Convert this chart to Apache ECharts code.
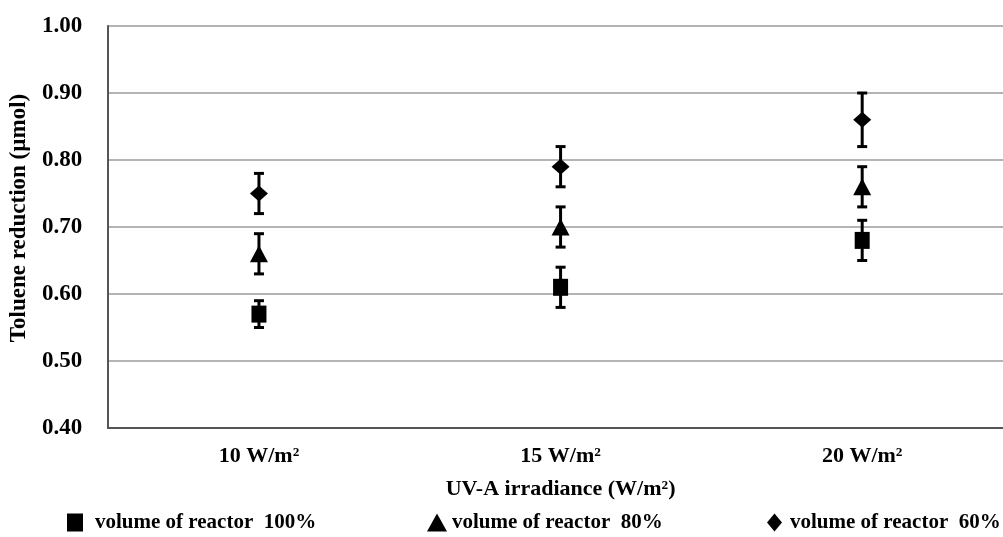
<!DOCTYPE html>
<html>
<head>
<meta charset="utf-8">
<script src="https://cdn.jsdelivr.net/npm/echarts@6/dist/echarts.min.js"></script>
<style>
  html, body { margin: 0; padding: 0; background: #fff; overflow: hidden; }
  #chart { width: 1013px; height: 537px; }
</style>
</head>
<body>
<div id="chart"></div>
<script>
// Irradiance levels on the x axis
var categories = ['10 W/m\u00B2', '15 W/m\u00B2', '20 W/m\u00B2'];

// Mean toluene reduction (µmol) per reactor fill volume
var vol100 = [0.57, 0.61, 0.68];
var vol80  = [0.66, 0.70, 0.76];
var vol60  = [0.75, 0.79, 0.86];

// Error bar bounds (low, high) for each series
var vol100Low  = [0.55, 0.58, 0.65];
var vol100High = [0.59, 0.64, 0.71];
var vol80Low   = [0.63, 0.67, 0.73];
var vol80High  = [0.69, 0.73, 0.79];
var vol60Low   = [0.72, 0.76, 0.82];
var vol60High  = [0.78, 0.82, 0.90];

// Y axis range and step
var yMin = 0.40, yMax = 1.00, yStep = 0.10;

var seriesNames = ['volume of reactor  100%', 'volume of reactor  80%', 'volume of reactor  60%'];
var legendIcons = ['rect', 'triangle', 'diamond'];
var legendLefts = [67, 427, 767];
var legendIconW = [16, 20, 15];
var legendTextPad = [7, 0, 3];

var FONT = "'Liberation Serif', 'Times New Roman', serif";

function errorData(low, high) {
  return categories.map(function (c, i) { return [i, low[i], high[i]]; });
}

// Vertical whisker with horizontal caps, positioned via the axis scales
function renderError(params, api) {
  var x = api.value(0);
  var lo = api.coord([x, api.value(1)]);
  var hi = api.coord([x, api.value(2)]);
  var cap = 5;
  var style = { stroke: '#000', lineWidth: 3 };
  return {
    type: 'group',
    children: [
      { type: 'line', shape: { x1: hi[0], y1: hi[1], x2: lo[0], y2: lo[1] }, style: style },
      { type: 'line', shape: { x1: hi[0] - cap, y1: hi[1], x2: hi[0] + cap, y2: hi[1] }, style: style },
      { type: 'line', shape: { x1: lo[0] - cap, y1: lo[1], x2: lo[0] + cap, y2: lo[1] }, style: style }
    ]
  };
}

function errorSeries(low, high) {
  return {
    type: 'custom',
    renderItem: renderError,
    data: errorData(low, high),
    encode: { x: 0, y: [1, 2] },
    z: 2,
    silent: true
  };
}

function pointSeries(name, values, symbol, size) {
  return {
    name: name,
    type: 'scatter',
    data: values,
    symbol: symbol,
    symbolSize: size,
    itemStyle: { color: '#000', opacity: 1 },
    z: 3
  };
}

// One legend block per series so each sits at its own spot along the bottom
var legends = seriesNames.map(function (name, i) {
  return {
    left: legendLefts[i],
    top: 512,
    padding: 0,
    itemWidth: legendIconW[i],
    itemHeight: 18,
    textStyle: { fontFamily: FONT, fontWeight: 'bold', fontSize: 21, color: '#000', padding: [0, 0, 0, legendTextPad[i]] },
    data: [{ name: name, icon: legendIcons[i], itemStyle: { color: '#000', opacity: 1 } }]
  };
});

var chart = echarts.init(document.getElementById('chart'), null, { renderer: 'canvas' });

chart.setOption({
  animation: false,
  backgroundColor: '#fff',
  textStyle: { fontFamily: FONT, fontWeight: 'bold', color: '#000' },
  grid: { left: 107, top: 26, width: 906, height: 402, containLabel: false },
  legend: legends,
  xAxis: {
    type: 'category',
    data: categories,
    boundaryGap: true,
    name: 'UV-A irradiance (W/m\u00B2)',
    nameLocation: 'middle',
    nameGap: 50,
    nameTextStyle: { fontFamily: FONT, fontWeight: 'bold', fontSize: 22, color: '#000' },
    axisLine: { show: true, lineStyle: { color: '#555', width: 2 } },
    axisTick: { show: false },
    axisLabel: { margin: 17, fontFamily: FONT, fontWeight: 'bold', fontSize: 22, color: '#000' },
    splitLine: { show: false }
  },
  yAxis: {
    type: 'value',
    min: yMin,
    max: yMax,
    interval: yStep,
    name: 'Toluene reduction (\u00B5mol)',
    nameLocation: 'middle',
    nameGap: 65,
    nameRotate: 90,
    nameTextStyle: { fontFamily: FONT, fontWeight: 'bold', fontSize: 23, color: '#000', padding: [0, 0, 0, 18] },
    axisLine: { show: true, lineStyle: { color: '#555', width: 2 } },
    axisTick: { show: false },
    axisLabel: {
      margin: 26,
      fontFamily: FONT, fontWeight: 'bold', fontSize: 23, color: '#000',
      formatter: function (v) { return v.toFixed(2); }
    },
    splitLine: { show: true, lineStyle: { color: '#b4b4b4', width: 2 } }
  },
  series: [
    errorSeries(vol100Low, vol100High),
    errorSeries(vol80Low, vol80High),
    errorSeries(vol60Low, vol60High),
    pointSeries(seriesNames[0], vol100, 'rect', [15, 17]),
    pointSeries(seriesNames[1], vol80, 'triangle', [18, 17]),
    pointSeries(seriesNames[2], vol60, 'diamond', [18, 16])
  ]
});
</script>
</body>
</html>
